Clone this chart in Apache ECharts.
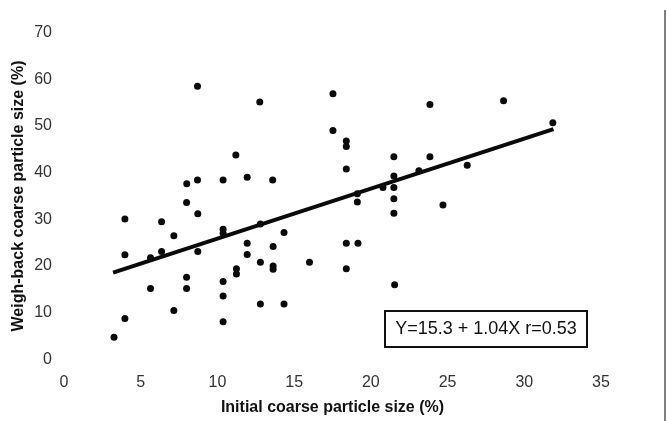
<!DOCTYPE html>
<html>
<head>
<meta charset="utf-8">
<script src="https://cdn.jsdelivr.net/npm/echarts@6/dist/echarts.min.js"></script>
<style>html,body{margin:0;padding:0;background:#fff}#c{width:667px;height:421px}</style>
</head>
<body>
<div id="c"></div>
<script>
// Scatter data
var initialSize = [3.26,3.97,3.97,3.97,5.64,5.64,6.36,6.36,7.16,7.16,7.99,7.99,7.99,8.72,8.72,10.37,10.37,10.37,10.37,10.37,11.24,11.24,11.94,11.94,12.8,12.8,12.8,13.63,13.63,13.63,14.34,14.34,16.0,8.7,12.76,11.2,8.0,8.7,10.37,11.94,13.6,17.53,17.53,18.4,18.4,18.4,23.85,23.85,21.5,23.13,21.5,20.79,21.5,19.12,19.12,21.5,21.5,24.7,18.4,19.16,18.4,21.55,28.65,31.86,26.28];
var weighBackSize = [4.75,30.1,22.4,8.8,21.8,15.2,29.5,23.1,26.5,10.5,33.6,17.6,15.2,31.2,23.1,27.9,27.0,16.7,13.6,8.1,19.4,18.3,24.9,22.5,29.0,20.8,11.9,24.2,20.0,19.3,27.2,11.9,20.8,58.5,55.1,43.8,37.6,38.4,38.4,39.0,38.4,56.9,49.0,46.8,45.6,40.8,54.6,43.4,43.4,40.4,39.3,36.8,36.8,35.5,33.7,34.4,31.3,33.1,24.9,24.9,19.4,16.0,55.4,50.7,41.6];
// Regression line end points
var fitX = [3.2, 31.9];
var fitY = [18.6, 49.3];
var xTicks = [0,5,10,15,20,25,30,35];
var yTicks = [0,10,20,30,40,50,60,70];
var equationText = 'Y=15.3 + 1.04X r=0.53';

var pts = initialSize.map(function(x,i){return [x, weighBackSize[i]];});
var fit = fitX.map(function(x,i){return [x, fitY[i]];});
var FONT = '"Liberation Sans", Arial, Helvetica, sans-serif';

var chart = echarts.init(document.getElementById('c'), null, {renderer:'canvas'});
chart.setOption({
  backgroundColor: '#ffffff',
  animation: false,
  grid: {left: 64, right: 66, top: 32.5, bottom: 61.5},
  xAxis: {
    type: 'value', min: xTicks[0], max: xTicks[xTicks.length-1], interval: 5,
    name: 'Initial coarse particle size (%)', nameLocation: 'middle', nameGap: 40,
    nameMoveOverlap: false,
    nameTextStyle: {fontFamily: FONT, fontSize: 16, fontWeight: 'bold', color: '#111'},
    axisLine: {show: false}, axisTick: {show: false}, splitLine: {show: false},
    axisLabel: {fontFamily: FONT, fontSize: 16, color: '#333', margin: 15}
  },
  yAxis: {
    type: 'value', min: yTicks[0], max: yTicks[yTicks.length-1], interval: 10,
    name: 'Weigh-back coarse particle size (%)', nameLocation: 'middle', nameGap: 37, nameRotate: 90,
    nameMoveOverlap: false,
    nameTextStyle: {fontFamily: FONT, fontSize: 16, fontWeight: 'bold', color: '#111'},
    axisLine: {show: false}, axisTick: {show: false}, splitLine: {show: false},
    axisLabel: {fontFamily: FONT, fontSize: 16, color: '#333', margin: 12}
  },
  series: [
    {type: 'scatter', data: pts, symbol: 'circle', symbolSize: 7,
     itemStyle: {color: '#0a0a0a', opacity: 1}, z: 3},
    {type: 'line', data: fit, symbol: 'none', lineStyle: {color: '#0a0a0a', width: 4}, z: 2}
  ],
  graphic: [
    {type: 'group', left: 384, top: 310, children: [
      {type: 'rect', shape: {x: 0, y: 0, width: 202, height: 36},
       style: {fill: '#fff', stroke: '#111', lineWidth: 2}},
      {type: 'text', x: 101, y: 18, style: {text: equationText, fontFamily: FONT, fontSize: 18,
        fill: '#111', align: 'center', verticalAlign: 'middle'}}
    ]},
    {type: 'line', shape: {x1: 665, y1: 10, x2: 665, y2: 421}, style: {stroke: '#555', lineWidth: 1.5}}
  ]
});
</script>
</body>
</html>
